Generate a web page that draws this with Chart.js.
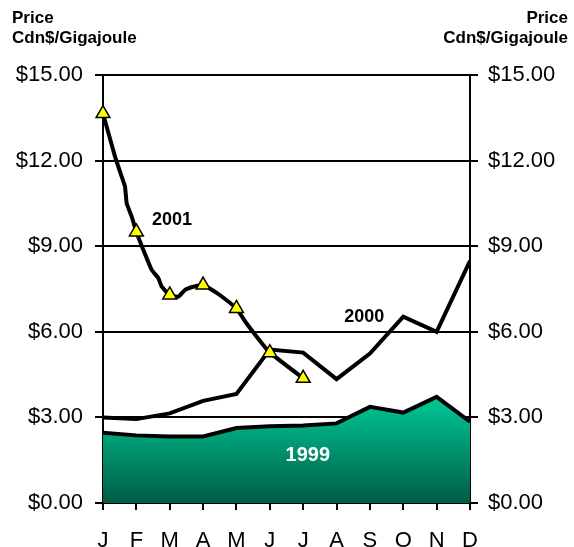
<!DOCTYPE html>
<html lang="en">
<head>
  <meta charset="UTF-8">
  <title>Gas Price Cdn$/Gigajoule</title>
  <script src="https://cdn.jsdelivr.net/npm/chart.js"></script>
  <style>
    html, body { margin: 0; padding: 0; background: #fff; }
  </style>
</head>
<body>
  <canvas id="myChart" width="574" height="547"></canvas>

  <script>
    // month labels (x = 0..11)
    const months = ['J', 'F', 'M', 'A', 'M', 'J', 'J', 'A', 'S', 'O', 'N', 'D'];
    const yTicks = [0, 3, 6, 9, 12, 15];

    // monthly prices
    const prices1999 = [2.46, 2.37, 2.33, 2.33, 2.63, 2.69, 2.72, 2.79, 3.37, 3.17, 3.72, 2.85];
    const prices2000 = [3.0, 2.94, 3.14, 3.58, 3.82, 5.38, 5.27, 4.34, 5.24, 6.53, 6.0, 8.49];
    // 2001: monthly markers, plus the finer (weekly-ish) trace between them
    const markers2001 = [13.65, 9.5, 7.29, 7.64, 6.82, 5.27, 4.37];
    const trace2001X = [0, 0.36, 0.56, 0.66, 0.71, 0.86, 1.0, 1.21, 1.46, 1.66, 1.76, 2.0, 2.26, 2.46, 2.71, 3.0, 3.2, 3.5, 4.0, 4.3, 4.76, 5.0, 6.0];
    const trace2001Y = [13.65, 12.14, 11.44, 11.09, 10.5, 10.04, 9.5, 8.87, 8.17, 7.88, 7.58, 7.29, 7.23, 7.47, 7.58, 7.64, 7.52, 7.29, 6.82, 6.3, 5.6, 5.27, 4.37];

    // series labels placed in data coordinates
    const seriesLabels = [
      { text: '2001', x: 2.07, y: 9.9, color: '#000', size: 18 },
      { text: '2000', x: 7.83, y: 6.51, color: '#000', size: 18 },
      { text: '1999', x: 6.14, y: 1.68, color: '#fff', size: 20 }
    ];

    const FONT = '"Liberation Sans", Arial, sans-serif';

    const toXY = (arr) => arr.map((v, i) => ({ x: i, y: v }));

    // titles and in-chart labels
    const textPlugin = {
      id: 'texts',
      afterDatasetsDraw(chart) {
        const c = chart.ctx;
        const xs = chart.scales.x, ys = chart.scales.y;
        c.save();
        c.textBaseline = 'middle';
        c.textAlign = 'center';
        seriesLabels.forEach(l => {
          c.font = 'bold ' + l.size + 'px ' + FONT;
          c.fillStyle = l.color;
          c.fillText(l.text, xs.getPixelForValue(l.x), ys.getPixelForValue(l.y));
        });
        c.font = 'bold 17px ' + FONT;
        c.fillStyle = '#000';
        c.textAlign = 'left';
        c.fillText('Price', 12, 18);
        c.fillText('Cdn$/Gigajoule', 12, 38);
        c.textAlign = 'right';
        c.fillText('Price', 568, 18);
        c.fillText('Cdn$/Gigajoule', 568, 38);
        c.restore();
      }
    };

    function areaGradient(context) {
      const chart = context.chart;
      if (!chart.chartArea) return '#00a080';
      const ys = chart.scales.y;
      const g = chart.ctx.createLinearGradient(0, ys.getPixelForValue(3.8), 0, ys.getPixelForValue(0));
      g.addColorStop(0, '#00cc99');
      g.addColorStop(1, '#005c44');
      return g;
    }

    const yTickCb = v => '$' + Number(v).toFixed(2);

    const ctx = document.getElementById('myChart').getContext('2d');
    const myChart = new Chart(ctx, {
      type: 'line',
      data: {
        datasets: [
          {
            label: '2001 markers',
            data: toXY(markers2001),
            showLine: false,
            clip: false,
            pointStyle: 'triangle',
            pointRadius: 8,
            pointBackgroundColor: '#ffff00',
            pointBorderColor: '#000',
            pointBorderWidth: 1.5,
            order: 0
          },
          {
            label: '2001',
            data: trace2001X.map((x, i) => ({ x: x, y: trace2001Y[i] })),
            borderColor: '#000',
            borderWidth: 4,
            pointRadius: 0,
            tension: 0.1,
            fill: false,
            order: 1
          },
          {
            label: '2000',
            data: toXY(prices2000),
            borderColor: '#000',
            borderWidth: 4,
            pointRadius: 0,
            fill: false,
            order: 2
          },
          {
            label: '1999',
            data: toXY(prices1999),
            borderColor: '#000',
            borderWidth: 4,
            pointRadius: 0,
            backgroundColor: areaGradient,
            fill: 'origin',
            order: 3
          }
        ]
      },
      options: {
        responsive: false,
        animation: false,
        layout: { padding: { top: 75, left: 0, right: 0, bottom: 0 } },
        plugins: {
          legend: { display: false },
          tooltip: { enabled: false }
        },
        scales: {
          x: {
            type: 'linear',
            min: 0,
            max: 11,
            afterFit: s => { s.height = 44; },
            afterBuildTicks: s => { s.ticks = months.map((m, i) => ({ value: i })); },
            ticks: {
              callback: v => months[v],
              color: '#000',
              font: { family: FONT, size: 22 },
              padding: 18,
              maxRotation: 0,
              autoSkip: false
            },
            grid: { drawOnChartArea: false, color: '#000', lineWidth: 2, tickLength: 7 },
            border: { display: false }
          },
          y: {
            position: 'left',
            min: 0,
            max: 15,
            afterFit: s => { s.width = 103; },
            afterBuildTicks: s => { s.ticks = yTicks.map(v => ({ value: v })); },
            ticks: {
              callback: yTickCb,
              color: '#000',
              font: { family: FONT, size: 22 },
              padding: 12
            },
            grid: { color: '#000', lineWidth: 2, tickLength: 8 },
            border: { color: '#000', width: 2 }
          },
          y2: {
            position: 'right',
            min: 0,
            max: 15,
            afterFit: s => { s.width = 104; },
            afterBuildTicks: s => { s.ticks = yTicks.map(v => ({ value: v })); },
            ticks: {
              callback: yTickCb,
              color: '#000',
              font: { family: FONT, size: 22 },
              padding: 10
            },
            grid: { drawOnChartArea: false, color: '#000', lineWidth: 2, tickLength: 8 },
            border: { color: '#000', width: 2 }
          }
        }
      },
      plugins: [textPlugin]
    });
  </script>
</body>
</html>
